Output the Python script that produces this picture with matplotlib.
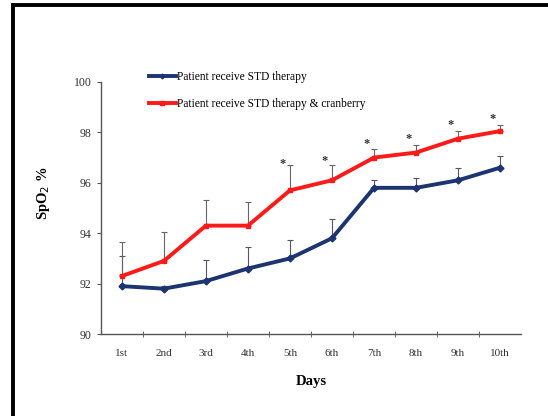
import matplotlib
matplotlib.use("Agg")
import matplotlib.pyplot as plt
from matplotlib.lines import Line2D
import numpy as np

# data
days = ['1st', '2nd', '3rd', '4th', '5th', '6th', '7th', '8th', '9th', '10th']
std = [91.9, 91.8, 92.1, 92.6, 93.0, 93.8, 95.8, 95.8, 96.1, 96.6]
std_err = [1.2, 0.1, 0.85, 0.85, 0.75, 0.75, 0.3, 0.4, 0.5, 0.45]
cran = [92.3, 92.9, 94.3, 94.3, 95.7, 96.1, 97.0, 97.2, 97.75, 98.05]
cran_err = [1.35, 1.15, 1.0, 0.95, 1.0, 0.6, 0.35, 0.3, 0.3, 0.25]
star_days = ['5th', '6th', '7th', '8th', '9th', '10th']
star_y = [96.75, 96.85, 97.55, 97.75, 98.3, 98.55]

plt.rcParams['font.family'] = ['Liberation Serif', 'DejaVu Serif']

fig = plt.figure(figsize=(5.48, 4.16), dpi=100)
ax = fig.add_axes([0.184, 0.197, 0.767, 0.606])

x = np.arange(len(days))
navy = '#1c3570'
red = '#ff1a1a'

ax.errorbar(x, std, yerr=[np.zeros(len(std)), std_err], fmt='none',
            ecolor='#555566', elinewidth=0.8, capsize=2.5, capthick=0.8, zorder=2)
ax.errorbar(x, cran, yerr=[np.zeros(len(cran)), cran_err], fmt='none',
            ecolor='#666666', elinewidth=0.8, capsize=2.5, capthick=0.8, zorder=2)
ax.plot(x, std, color=navy, lw=2.8, marker='D', ms=3.5,
        label='Patient receive STD therapy', zorder=3)
ax.plot(x, cran, color=red, lw=2.8, marker='s', ms=3.5,
        label='Patient receive STD therapy & cranberry', zorder=3)

for d, yv in zip(star_days, star_y):
    ax.text(days.index(d) - 0.18, yv, '*', ha='center', va='center',
            fontsize=9, fontweight='bold', color='#333333')

ax.set_xlim(-0.5, 9.5)
ax.set_ylim(90, 100)
ax.set_yticks([90, 92, 94, 96, 98, 100])
ax.set_xticks(x)
ax.set_xticklabels(days)
ax.set_xticks(np.arange(0.5, 9.5, 1), minor=True)
ax.tick_params(axis='x', which='major', length=0, labelsize=8, pad=11, colors='#333333')
ax.tick_params(axis='x', which='minor', length=4, direction='inout', color='#555555')
ax.tick_params(axis='y', length=3, labelsize=8.5, color='#555555', labelcolor='#333333')

for s in ['top', 'right']:
    ax.spines[s].set_visible(False)
for s in ['left', 'bottom']:
    ax.spines[s].set_color('#555555')
    ax.spines[s].set_linewidth(1.0)

ax.set_xlabel('Days', fontsize=10.5, fontweight='bold', labelpad=12)
ax.set_ylabel('SpO$_2$ %', fontsize=10.5, fontweight='bold')
ax.yaxis.set_label_coords(-0.115, 0.56)

ax.legend(loc='upper left', bbox_to_anchor=(0.09, 1.085), frameon=False,
          fontsize=8.3, handlelength=2.3, handletextpad=0.1, labelspacing=1.35,
          markerscale=0.7)

# outer border (only top and left visible in the crop)
fig.add_artist(Line2D([0.0246, 0.0246], [0, 0.988], color='black', lw=2.8,
                      transform=fig.transFigure))
fig.add_artist(Line2D([0.0246, 1.0], [0.988, 0.988], color='black', lw=2.8,
                      transform=fig.transFigure))

fig.savefig('out.png', dpi=100)
